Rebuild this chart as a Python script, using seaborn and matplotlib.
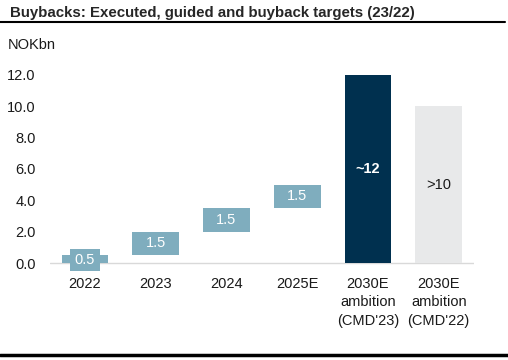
import numpy as np
import pandas as pd
import seaborn as sns
import matplotlib.pyplot as plt
from matplotlib.lines import Line2D

categories = ["2022", "2023", "2024", "2025E",
              "2030E\nambition\n(CMD'23)", "2030E\nambition\n(CMD'22)"]
starts = [0.0, 0.5, 2.0, 3.5, 0.0, 0.0]
ends = [0.5, 2.0, 3.5, 5.0, 12.0, 10.0]
bar_labels = ["0.5", "1.5", "1.5", "1.5", "~12", ">10"]
yticks = [0.0, 2.0, 4.0, 6.0, 8.0, 10.0, 12.0]

blue = "#7FADBE"
navy = "#00304F"
grey = "#E8E9EA"
bar_colors = [blue, blue, blue, blue, navy, grey]

df = pd.DataFrame({"cat": categories, "start": starts, "end": ends})
df["height"] = df["end"] - df["start"]

sns.set_style("white")
plt.rcParams["font.family"] = ["Liberation Sans", "DejaVu Sans"]

fig = plt.figure(figsize=(5.08, 3.6), dpi=100)
ax = fig.add_axes([0.0976, 0.2389, 0.8356, 0.5747])

sns.barplot(data=df, x="cat", y="height", order=categories, bottom=df["start"].to_numpy(),
            width=0.66, color=blue, ax=ax, zorder=2)
for patch, c in zip(ax.patches, bar_colors):
    patch.set_facecolor(c)
    patch.set_edgecolor("none")

ax.axhline(0, color="#D9D9D9", lw=1, zorder=1)

for i, (s, e, lab) in enumerate(zip(starts, ends, bar_labels)):
    mid = (s + e) / 2
    if i == 0:
        ax.text(i, mid - 0.05, lab, ha="center", va="center", color="white", fontsize=10.5,
                zorder=3, bbox=dict(boxstyle="square,pad=0.3", fc=blue, ec="none"))
    elif i == 4:
        ax.text(i, mid, lab, ha="center", va="center", color="white", fontsize=10.5,
                fontweight="bold", zorder=3)
    elif i == 5:
        ax.text(i, mid, lab, ha="center", va="center", color="#1a1a1a", fontsize=10.5, zorder=3)
    else:
        ax.text(i, mid, lab, ha="center", va="center", color="white", fontsize=10.5, zorder=3)

ax.set_xlim(-0.5, 5.5)
ax.set_ylim(-0.7, 12.5)
ax.set_yticks(yticks)
ax.set_yticklabels([f"{v:.1f}" for v in yticks])
ax.set_xlabel("")
ax.set_ylabel("")
ax.tick_params(axis="both", length=0, labelsize=10.5, colors="#1a1a1a")
ax.tick_params(axis="y", pad=10)
ax.tick_params(axis="x", pad=2)
for t in ax.get_xticklabels():
    t.set_linespacing(1.4)
sns.despine(ax=ax, left=True, bottom=True)

fig.text(0.02, 0.965, "Buybacks: Executed, guided and buyback targets (23/22)",
         fontsize=10.8, fontweight="bold", va="center", ha="left")
fig.add_artist(Line2D([0, 0.995], [0.938, 0.938], color="black", lw=1.5))
fig.add_artist(Line2D([0, 1], [0.013, 0.013], color="black", lw=2.5))
fig.text(0.016, 0.875, "NOKbn", fontsize=10.5, va="center", ha="left", color="#1a1a1a")

fig.savefig("out.png", dpi=100)
